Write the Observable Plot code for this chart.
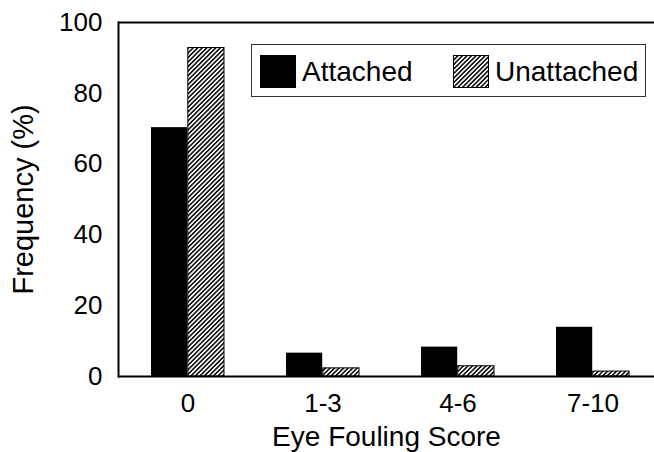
<!DOCTYPE html>
<html>
<head>
<meta charset="utf-8">
<script src="https://cdn.jsdelivr.net/npm/d3@7"></script>
<script src="https://cdn.jsdelivr.net/npm/@observablehq/plot@0.6"></script>
<style>
  html, body { margin: 0; padding: 0; background: white; }
  #wrap { position: relative; width: 654px; height: 452px; font-family: "Liberation Sans", Arial, sans-serif; }
  #legend { position: absolute; left: 251px; top: 44px; width: 395px; height: 53px; border: 1px solid #333; background: white; box-sizing: border-box; }
  #legend .item { position: absolute; top: 0; height: 53px; display: flex; align-items: center; font-size: 28px; color: black; }
  #legend svg { display: block; margin-right: 6px; }
</style>
</head>
<body>
<div id="wrap"></div>
<script>
const categories = ["0", "1-3", "4-6", "7-10"];
const attached = [70.3, 6.6, 8.3, 13.9];
const unattached = [92.8, 2.3, 2.9, 1.4];
const yTicks = [0, 20, 40, 60, 80, 100];
const seriesNames = ["Attached", "Unattached"];
const xTitle = "Eye Fouling Score";
const yTitle = "Frequency (%)";

const data = categories.map((c, i) => ({cat: c, attached: attached[i], unattached: unattached[i]}));

const chart = Plot.plot({
  width: 654,
  height: 452,
  marginLeft: 118,
  marginRight: 0,
  marginTop: 22,
  marginBottom: 76,
  style: {fontFamily: "'Liberation Sans', Arial, sans-serif", fontSize: "26px", color: "black", background: "white", overflow: "visible"},
  x: {domain: categories, range: [118, 662], paddingInner: 0.456, paddingOuter: 0.24},
  y: {domain: [0, 100]},
  marks: [
    Plot.barY(data, {x: "cat", y: "attached", fill: "black", insetRight: 36.8}),
    Plot.barY(data, {x: "cat", y: "unattached", fill: "url(#hatch)", stroke: "black", strokeWidth: 1, insetLeft: 36.8}),
    Plot.ruleY([0, 100], {stroke: "black", strokeWidth: 2}),
    Plot.frame({anchor: "left", stroke: "black", strokeWidth: 2}),
    Plot.axisY({ticks: yTicks, tickSize: 0, tickPadding: 16, fontSize: 26, label: null}),
    Plot.axisY({ticks: [], tickSize: 0, fontSize: 29, label: yTitle, labelAnchor: "center", labelOffset: 106, labelArrow: "none"}),
    Plot.axisX({tickSize: 0, tickPadding: 17, fontSize: 26, label: null}),
    Plot.axisX({ticks: [], tickSize: 0, fontSize: 28, label: xTitle, labelAnchor: "center", labelOffset: 69, labelArrow: "none"})
  ]
});

// hatch pattern definition
const ns = "http://www.w3.org/2000/svg";
const defs = document.createElementNS(ns, "defs");
const pat = document.createElementNS(ns, "pattern");
pat.setAttribute("id", "hatch");
pat.setAttribute("patternUnits", "userSpaceOnUse");
pat.setAttribute("width", "3.2");
pat.setAttribute("height", "3.2");
pat.setAttribute("patternTransform", "rotate(45)");
const bg = document.createElementNS(ns, "rect");
bg.setAttribute("width", "3.2"); bg.setAttribute("height", "3.2"); bg.setAttribute("fill", "white");
const ln = document.createElementNS(ns, "line");
ln.setAttribute("x1", "0.8"); ln.setAttribute("y1", "0"); ln.setAttribute("x2", "0.8"); ln.setAttribute("y2", "3.2");
ln.setAttribute("stroke", "black"); ln.setAttribute("stroke-width", "1.5");
pat.appendChild(bg); pat.appendChild(ln); defs.appendChild(pat);
chart.insertBefore(defs, chart.firstChild);

const wrap = document.getElementById("wrap");
wrap.appendChild(chart);

// legend
const legend = document.createElement("div");
legend.id = "legend";
const fills = ["black", "url(#hatch)"];
const lefts = [8, 201];
seriesNames.forEach((name, i) => {
  const item = document.createElement("div");
  item.className = "item";
  item.style.left = lefts[i] + "px";
  item.innerHTML = `<svg width="36" height="33"><rect x="0.5" y="0.5" width="35" height="32" fill="${fills[i]}" stroke="black" stroke-width="1"/></svg><span>${name}</span>`;
  legend.appendChild(item);
});
wrap.appendChild(legend);
</script>
</body>
</html>
